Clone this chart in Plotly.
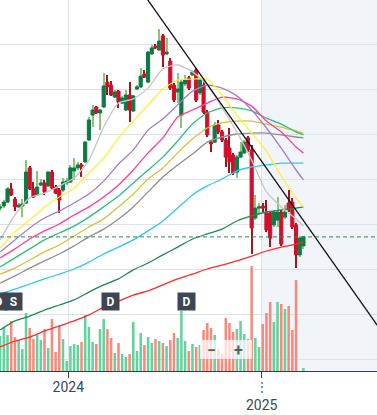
import plotly.graph_objects as go
import pandas as pd

# ---------------- data ----------------
dates = pd.date_range("2023-08-25", "2025-03-21", freq="W-FRI")  # weekly candles

opens = [50.3, 51.0, 52.3, 56.7, 53.3, 50.7, 51.0, 52.0, 63.7, 56.7,
         54.7, 58.0, 58.7, 57.7, 62.3, 57.3, 56.3, 56.3, 58.7, 59.0,
         62.7, 63.7, 64.7, 65.7, 73.0, 81.3, 84.0, 82.0, 84.0, 92.3,
         91.3, 87.3, 89.3, 85.3, 83.0, 88.0, 82.7, 90.0, 90.7, 95.0,
         92.3, 101.7, 104.3, 103.0, 107.7, 101.7, 99.3, 91.3, 89.0, 81.3,
         91.7, 93.7, 94.7, 96.3, 88.7, 91.3, 82.3, 72.3, 72.3, 78.0,
         75.7, 73.0, 70.3, 68.0, 62.3, 67.3, 68.7, 73.7, 69.7, 47.0,
         50.3, 51.0, 48.7, 48.7, 44.7, 46.3, 49.0, 47.3, 52.0, 52.3,
         44.7, 34.7, 37.7]
closes = [50.7, 52.3, 56.7, 54.7, 50.7, 51.3, 51.7, 62.3, 56.7, 54.0,
          57.3, 58.7, 55.7, 62.3, 57.0, 55.3, 53.0, 59.0, 59.3, 63.7,
          63.7, 64.7, 64.3, 72.3, 79.7, 83.0, 82.0, 83.0, 91.0, 90.7,
          88.0, 89.0, 85.7, 87.0, 88.0, 83.0, 87.7, 90.7, 94.3, 94.0,
          102.3, 103.7, 103.7, 106.0, 101.3, 102.3, 90.3, 86.3, 90.0, 92.3,
          93.0, 90.3, 95.7, 86.3, 93.0, 82.3, 74.7, 71.7, 78.0, 75.7,
          73.0, 67.3, 65.7, 62.0, 67.3, 69.0, 72.3, 69.7, 43.7, 50.3,
          50.7, 50.3, 43.0, 40.3, 49.0, 49.0, 38.3, 49.0, 49.7, 44.0,
          34.7, 40.3, 40.7]
highs = [51.7, 53.0, 57.3, 58.7, 54.0, 52.0, 53.3, 66.3, 64.3, 59.0,
         62.7, 60.0, 59.7, 62.7, 63.0, 58.0, 57.0, 60.3, 60.3, 64.7,
         67.0, 65.7, 65.3, 72.7, 80.7, 84.7, 84.3, 83.3, 95.3, 94.7,
         92.7, 89.7, 89.7, 87.7, 89.7, 92.3, 88.0, 91.3, 97.0, 96.3,
         102.7, 104.7, 105.0, 110.0, 108.3, 107.0, 100.3, 92.0, 95.3, 93.0,
         94.7, 94.3, 96.3, 97.0, 93.7, 93.0, 83.0, 73.0, 79.0, 79.7,
         76.3, 73.7, 77.0, 68.7, 68.0, 72.3, 73.0, 74.3, 71.3, 54.7,
         52.0, 52.0, 53.0, 49.3, 49.7, 54.0, 49.7, 51.3, 56.3, 53.7,
         45.3, 41.0, 41.0]
lows = [49.3, 50.3, 52.0, 54.3, 49.3, 50.3, 47.3, 51.7, 56.3, 53.7,
        54.3, 57.7, 54.7, 57.3, 56.3, 55.0, 48.7, 55.7, 58.0, 58.7,
        59.7, 63.0, 60.7, 65.3, 72.7, 77.3, 81.7, 76.3, 83.7, 88.0,
        87.7, 87.0, 83.7, 85.0, 82.7, 79.0, 82.3, 89.7, 90.3, 93.7,
        92.0, 101.3, 103.3, 102.7, 97.3, 101.3, 89.7, 85.7, 85.3, 77.0,
        91.0, 89.7, 94.3, 85.7, 88.0, 81.7, 74.0, 69.0, 72.0, 75.0,
        72.3, 64.0, 62.0, 61.3, 60.3, 67.0, 68.3, 69.0, 35.0, 46.3,
        48.0, 49.0, 42.3, 37.3, 44.0, 44.0, 37.7, 46.7, 49.0, 43.3,
        30.3, 34.0, 36.7]
volumes = [3.5, 4.4, 3.6, 5.0, 3.4, 3.1, 2.2, 5.8, 4.3, 3.2,
           3.6, 3.1, 4.2, 2.3, 5.2, 1.9, 4.6, 3.2, 1.0, 2.5,
           2.7, 2.6, 2.9, 5.6, 4.4, 2.9, 2.7, 4.2, 5.2, 4.2,
           3.3, 1.8, 2.8, 1.7, 1.4, 1.7, 4.9, 2.0, 3.8, 2.6,
           3.4, 2.8, 3.2, 3.0, 2.8, 2.5, 3.1, 3.8, 3.3, 6.0,
           3.0, 2.0, 2.7, 2.4, 2.6, 4.1, 4.8, 4.3, 3.6, 2.2,
           1.7, 5.3, 4.8, 3.9, 4.2, 5.0, 3.7, 3.2, 10.5, 3.3,
           2.4, 4.7, 5.8, 6.9, 4.9, 6.9, 6.7, 6.2, 6.5, 4.1,
           9.1, 0.0, 0.3]

# moving averages, read every 4th week (plus last week)
ma_dates = list(dates[::4]) + [dates[-1]]
ma_lightgray = [39.7, 48.0, 53.7, 55.3, 57.7, 60.3, 66.3, 77.3, 85.3, 86.7, 90.3,
                96.7, 98.0, 95.7, 91.3, 83.7, 75.7, 66.3, 55.7, 50.7, 46.7, 44.3]
ma_yellow = [37.0, 42.3, 46.3, 50.7, 54.0, 57.0, 62.0, 67.0, 73.7, 79.3, 84.7,
             90.0, 93.0, 93.3, 93.3, 88.0, 81.3, 75.3, 69.3, 61.0, 53.7, 50.7]
ma_purple = [35.7, 39.7, 43.7, 47.0, 49.3, 52.0, 55.0, 59.3, 65.0, 69.7, 76.3,
             80.0, 84.7, 89.3, 91.3, 90.3, 87.7, 83.0, 77.0, 70.3, 63.0, 59.7]
ma_pink = [33.7, 36.7, 40.0, 42.7, 45.0, 48.0, 50.7, 54.0, 58.0, 63.0, 68.7,
           73.7, 80.7, 83.0, 85.3, 87.3, 86.7, 84.3, 79.3, 75.7, 70.7, 68.7]
ma_green = [30.7, 33.7, 36.7, 39.7, 42.0, 44.3, 47.3, 50.7, 54.3, 58.7, 63.0,
            67.3, 72.7, 78.3, 82.0, 83.7, 83.7, 82.7, 80.3, 78.3, 75.7, 74.7]
ma_olive = [28.3, 30.3, 33.0, 35.7, 38.0, 41.0, 44.0, 46.7, 50.7, 55.0, 60.0,
            63.7, 68.7, 73.3, 77.0, 78.7, 79.3, 79.3, 78.3, 77.3, 76.0, 75.3]
ma_gray = [25.3, 27.7, 30.3, 32.7, 35.0, 37.7, 40.7, 43.3, 46.7, 50.7, 55.7,
           60.7, 64.7, 68.3, 72.3, 74.0, 75.0, 75.3, 75.3, 74.7, 74.0, 73.7]
ma_cyan = [21.7, 23.3, 25.0, 26.7, 28.3, 30.0, 32.3, 35.0, 37.3, 39.7, 42.7,
           46.0, 50.3, 54.7, 57.7, 60.0, 62.7, 64.0, 64.7, 65.3, 65.3, 65.3]
ma_darkgreen = [9.7, 12.7, 14.3, 16.3, 18.0, 19.7, 22.3, 24.7, 26.7, 29.7, 32.0,
                34.7, 37.3, 40.0, 41.7, 43.3, 46.0, 47.7, 49.0, 49.7, 50.3, 50.7]
ma_red = [4.0, 6.0, 7.3, 9.3, 11.0, 12.7, 14.7, 17.3, 19.3, 21.3, 22.7,
          24.7, 26.7, 28.3, 30.0, 31.3, 32.7, 34.3, 36.0, 37.3, 38.3, 39.0]

trend_dates = ["2024-05-20", "2025-08-10"]
trend_prices = [122.3, 10.7]

marker_dates = ["2023-08-26", "2023-09-20", "2024-03-21", "2024-08-12"]
marker_labels = ["D", "S", "D", "D"]

tick_vals = ["2024-01-01", "2025-01-01"]
tick_text = ["2024", "<span style='color:#6b7280'>⋮</span><br>2025"]

# ---------------- styles ----------------
UP_BODY, DN_BODY = "#0b7a45", "#d10f2a"
UP_WICK, DN_WICK = "#8cc67a", "#a8141c"
UP_VOL, DN_VOL = "#63d29d", "#f9897d"
DAY = 86400000

up = [c >= o for o, c in zip(opens, closes)]

fig = go.Figure()

fig.add_trace(go.Bar(
    x=dates, y=volumes, yaxis="y", width=4.8 * DAY,
    marker=dict(color=[UP_VOL if u else DN_VOL for u in up], line=dict(width=0)),
    hoverinfo="skip"))

fig.add_trace(go.Bar(
    x=dates, base=lows, y=[h - l for h, l in zip(highs, lows)], yaxis="y2",
    width=2.0 * DAY,
    marker=dict(color=[UP_WICK if u else DN_WICK for u in up], line=dict(width=0)),
    hoverinfo="skip"))

fig.add_trace(go.Candlestick(
    x=dates, open=opens, close=closes,
    high=[max(o, c) for o, c in zip(opens, closes)],
    low=[min(o, c) for o, c in zip(opens, closes)],
    yaxis="y2", whiskerwidth=0,
    increasing=dict(line=dict(color=UP_BODY, width=1), fillcolor=UP_BODY),
    decreasing=dict(line=dict(color=DN_BODY, width=1), fillcolor=DN_BODY),
    hoverinfo="skip"))

ma_series = [
    (ma_red, "#ff2b2b"),
    (ma_darkgreen, "#1f8b4c"),
    (ma_cyan, "#2cc7f5"),
    (ma_gray, "#8f8f8f"),
    (ma_olive, "#d6c23c"),
    (ma_green, "#2fbf7f"),
    (ma_pink, "#ff3d9a"),
    (ma_purple, "#a07fd0"),
    (ma_yellow, "#fff03a"),
    (ma_lightgray, "#c6c6c6"),
]
for vals, col in ma_series:
    fig.add_trace(go.Scatter(
        x=ma_dates, y=vals, yaxis="y2", mode="lines",
        line=dict(color=col, width=1.3, shape="spline", smoothing=0.6),
        hoverinfo="skip"))

fig.add_trace(go.Scatter(
    x=trend_dates, y=trend_prices, yaxis="y2", mode="lines",
    line=dict(color="#111111", width=1.3), hoverinfo="skip"))

shapes = [
    dict(type="rect", xref="x", yref="paper", x0="2025-01-01", x1="2025-08-20",
         y0=0, y1=1, fillcolor="#f1f5f9", line=dict(width=0), layer="below"),
    dict(type="line", xref="paper", yref="y2", x0=0, x1=1,
         y0=closes[-1], y1=closes[-1],
         line=dict(color="#2f855a", width=1, dash="4px,3px")),
    dict(type="rect", xref="paper", yref="paper", x0=0.5305, x1=0.6684,
         y0=0.0323, y1=0.0836, fillcolor="rgba(255,255,255,0.72)",
         line=dict(width=0), layer="above"),
]

annotations = []
for i, (d, lab) in enumerate(zip(marker_dates, marker_labels)):
    annotations.append(dict(
        x=d, xref="x", y=0.186, yref="paper", text=f"<b>{lab}</b>",
        xanchor="center", yanchor="middle",
        showarrow=False, xshift=-2 if i == 0 else 0,
        font=dict(family="Roboto", size=12, color="white"),
        bgcolor="#3e4651", borderpad=3, width=11, height=11))
annotations.append(dict(x=0.5623, y=0.0566, xref="paper", yref="paper", text="<b>−</b>",
                        xanchor="center", yanchor="middle",
                        showarrow=False, font=dict(family="Roboto", size=16, color="#5a5f66")))
annotations.append(dict(x=0.6313, y=0.0566, xref="paper", yref="paper", text="<b>+</b>",
                        xanchor="center", yanchor="middle",
                        showarrow=False, font=dict(family="Roboto", size=16, color="#5a5f66")))

fig.update_layout(
    width=377, height=415,
    margin=dict(l=0, r=0, t=0, b=44),
    plot_bgcolor="white", paper_bgcolor="white",
    showlegend=False, barmode="overlay",
    boxgap=0.15, boxgroupgap=0.0,
    shapes=shapes, annotations=annotations,
    xaxis=dict(type="date", range=["2023-08-24 18:00", "2025-08-07 05:00"],
               tickmode="array", tickvals=tick_vals, ticktext=tick_text,
               showgrid=True, gridcolor="#dfe3e8", gridwidth=1,
               showline=True, linecolor="#3a3f47", linewidth=1,
               ticks="outside", ticklen=6, tickcolor="#3a3f47",
               ticklabelstandoff=-3,
               tickfont=dict(family="Roboto", size=14, color="#3d4653"),
               rangeslider=dict(visible=False), zeroline=False, fixedrange=True),
    yaxis=dict(range=[0, 37.1], visible=False, showgrid=False, fixedrange=True),
    yaxis2=dict(overlaying="y", side="right", range=[-4, 119.6667],
                tick0=0, dtick=15, showgrid=True, gridcolor="#dfe3e8",
                showticklabels=False, ticks="", zeroline=False, fixedrange=True),
)

fig.write_html("out.html", config={"displayModeBar": False},
               post_script="document.body.style.margin='0';document.body.style.overflow='hidden';")
